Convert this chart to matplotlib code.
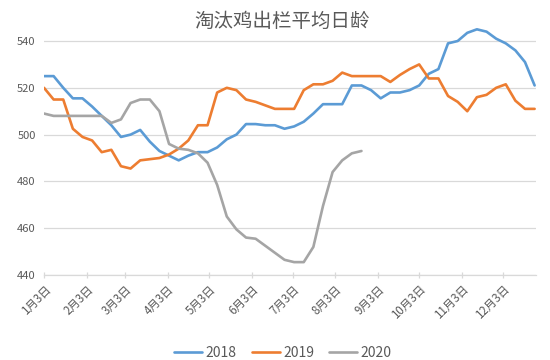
import matplotlib
matplotlib.use("Agg")
import matplotlib.pyplot as plt
import pandas as pd

plt.rcParams['font.family'] = ['Noto Sans CJK SC', 'DejaVu Sans']

# ---- data ----
title = "淘汰鸡出栏平均日龄"
week_start = "2018-01-03"
n_weeks = 52
series_names = ["2018", "2019", "2020"]
vals_2018 = [525, 525, 520, 515.5, 515.5, 512, 508, 504, 499, 500, 502, 497, 493,
             491, 489, 491, 492.5, 492.5, 494.5, 498, 500, 504.5, 504.5, 504, 504,
             502.5, 503.5, 505.5, 509, 513, 513, 513, 521, 521, 519, 515.5, 518,
             518, 519, 521, 526, 528, 539, 540, 543.5, 545, 544, 541, 539, 536,
             531, 521]
vals_2019 = [520, 515, 515, 502.5, 499, 497.5, 492.5, 493.5, 486.5, 485.5, 489,
             489.5, 490, 491.5, 494, 497.5, 504, 504, 518, 520, 519, 515, 514,
             512.5, 511, 511, 511, 519, 521.5, 521.5, 523, 526.5, 525, 525, 525,
             525, 522.5, 525.5, 528, 530, 524, 524, 516.5, 514, 510, 516, 517,
             520, 521.5, 514.5, 511, 511]
vals_2020 = [509, 508, 508, 508, 508, 508, 508, 505, 506.5, 513.5, 515, 515, 510,
             496, 494, 493.5, 492, 488, 478.5, 465, 459.5, 456, 455.5, 452.5,
             449.5, 446.5, 445.5, 445.5, 452, 469.5, 484, 489, 492, 493]
tick_months = list(range(1, 13))
tick_labels = [f"{m}月3日" for m in tick_months]
y_ticks = [440, 460, 480, 500, 520, 540]

colors = ["#5B9BD5", "#ED7D31", "#A5A5A5"]
grid_c = "#D9D9D9"
text_c = "#595959"

dates = pd.date_range(week_start, periods=n_weeks, freq="7D")

fig = plt.figure(figsize=(5.5, 3.6), dpi=100)
ax = fig.add_axes([44 / 550, 1 - 275 / 360, (536 - 44) / 550, (275 - 22.3) / 360])

for name, vals, c in zip(series_names, [vals_2018, vals_2019, vals_2020], colors):
    ax.plot(dates[:len(vals)], vals, color=c, lw=1.9, label=name,
            solid_joinstyle="round", solid_capstyle="round")

ax.set_ylim(440, 548)
ax.set_xlim(dates[0], dates[-1] + pd.Timedelta(days=1))
ax.set_yticks(y_ticks)
ax.set_yticklabels([str(v) for v in y_ticks], fontsize=8, color=text_c)
ax.tick_params(axis="y", length=0, pad=6)
ax.grid(axis="y", color=grid_c, lw=0.9)
ax.set_axisbelow(True)

tick_dates = [pd.Timestamp(2018, m, 3) for m in tick_months]
ax.set_xticks(tick_dates)
ax.set_xticklabels(tick_labels, rotation=45, ha="right", va="top",
                   rotation_mode="anchor", fontsize=8.3, color=text_c)
ax.tick_params(axis="x", length=5, direction="inout", color=grid_c, width=0.9, pad=3)

for s in ["top", "right", "left"]:
    ax.spines[s].set_visible(False)
ax.spines["bottom"].set_color(grid_c)
ax.spines["bottom"].set_linewidth(0.9)

fig.text(282 / 550, 1 - 21 / 360, title, ha="center", va="center",
         fontsize=14, color=text_c)

fig.legend(loc="center", bbox_to_anchor=(283 / 550, 1 - 353 / 360), ncol=3,
           frameon=False, fontsize=10, handlelength=2.0, handletextpad=0.25,
           columnspacing=1.1, labelcolor=text_c)

fig.savefig("out.png", dpi=100)
